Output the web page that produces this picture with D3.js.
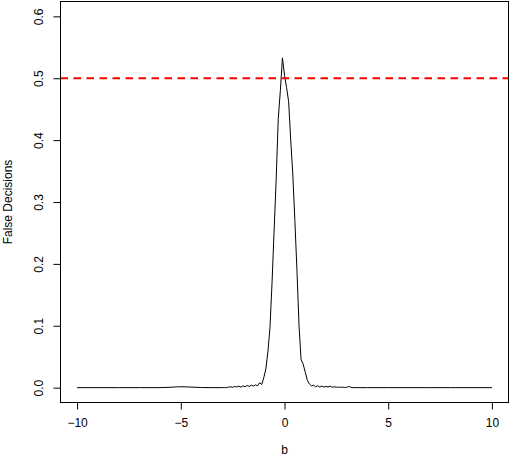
<!DOCTYPE html>
<html>
<head>
<meta charset="utf-8">
<script src="https://cdn.jsdelivr.net/npm/d3@7"></script>
<style>
  html, body { margin: 0; padding: 0; background: #fff; }
  svg { display: block; }
  text { font-family: "Liberation Sans", Arial, Helvetica, sans-serif; fill: #000; }
</style>
</head>
<body>
<script>
// ---- data ----
const bValues = [
  -10, -9, -8, -7, -6, -5.5, -5.2, -5.0, -4.8, -4.5, -4.0, -3.5,
  -3.0, -2.9, -2.8, -2.7, -2.6, -2.5, -2.4, -2.3, -2.2, -2.1,
  -2.0, -1.9, -1.8, -1.7, -1.6, -1.5, -1.4, -1.3, -1.2, -1.1,
  -1.0, -0.9, -0.8, -0.7, -0.6, -0.5, -0.4, -0.3, -0.2, -0.1,
  0.0, 0.1, 0.2, 0.3, 0.4, 0.5, 0.6, 0.7, 0.8, 0.9,
  1.0, 1.1, 1.2, 1.3, 1.4, 1.5, 1.6, 1.7, 1.8, 1.9,
  2.0, 2.1, 2.2, 2.3, 2.4, 2.5, 2.6, 2.7, 2.8, 2.9,
  3.0, 3.1, 3.2, 3.3, 3.4, 3.5,
  4, 5, 6, 7, 8, 9, 10
];
const falseDecisions = [
  0, 0, 0, 0, 0, 0.0006, 0.0012, 0.0015, 0.0013, 0.0009, 0.0002, 0,
  0, 0, 0, 0.0008, 0.0015, 0.0005, 0.002, 0.001, 0.0025, 0.0008,
  0.003, 0.0015, 0.0035, 0.002, 0.004, 0.0025, 0.0045, 0.003, 0.008, 0.005,
  0.016, 0.03, 0.058, 0.097, 0.17, 0.255, 0.338, 0.435, 0.48, 0.533,
  0.505, 0.485, 0.462, 0.40, 0.345, 0.27, 0.19, 0.10, 0.045, 0.038,
  0.025, 0.012, 0.006, 0.003, 0.004, 0.0015, 0.003, 0.001, 0.0025, 0.0008,
  0.002, 0.001, 0.0025, 0.0005, 0.0015, 0.0005, 0.001, 0.0005, 0.0008, 0.0003,
  0.0005, 0.002, 0.0005, 0, 0, 0,
  0, 0, 0, 0, 0, 0, 0
];
const xTicks = [-10, -5, 0, 5, 10];
const yTicks = [0.0, 0.1, 0.2, 0.3, 0.4, 0.5, 0.6];
const thresholdValue = 0.5;
const xLabel = "b";
const yLabel = "False Decisions";

// ---- layout ----
const W = 510, H = 463;
const pLeft = 60.5, pRight = 508.5, pTop = 1.5, pBottom = 402.5;

const svg = d3.select("body").append("svg").attr("width", W).attr("height", H);

const x = d3.scaleLinear().domain([-10.8, 10.8]).range([pLeft, pRight]);
const y = d3.scaleLinear().domain([-0.024, 0.624]).range([pBottom, pTop]);

// clip
svg.append("clipPath").attr("id", "clip")
  .append("rect").attr("x", pLeft).attr("y", pTop)
  .attr("width", pRight - pLeft).attr("height", pBottom - pTop);

// data line
const pts = bValues.map((b, i) => [b, falseDecisions[i]]);
svg.append("path")
  .datum(pts)
  .attr("clip-path", "url(#clip)")
  .attr("fill", "none")
  .attr("stroke", "#000")
  .attr("stroke-width", 1)
  .attr("stroke-linejoin", "round")
  .attr("d", d3.line().x(d => x(d[0])).y(d => y(d[1])));

// threshold line
svg.append("line")
  .attr("x1", pLeft).attr("x2", pRight)
  .attr("y1", y(thresholdValue)).attr("y2", y(thresholdValue))
  .attr("stroke", "#ff0000")
  .attr("stroke-width", 2)
  .attr("stroke-dasharray", "7.5,5.5");

// box
svg.append("rect")
  .attr("x", pLeft).attr("y", pTop)
  .attr("width", pRight - pLeft).attr("height", pBottom - pTop)
  .attr("fill", "none").attr("stroke", "#000").attr("stroke-width", 1);

// x axis
const xAxis = d3.axisBottom(x).tickValues(xTicks).tickSizeOuter(0).tickSizeInner(7).tickPadding(9)
  .tickFormat(d => d3.format("d")(d).replace("-", "\u2212"));
const gx = svg.append("g").attr("transform", `translate(0,${pBottom})`).call(xAxis);
gx.select(".domain").remove();
gx.selectAll("text").attr("font-size", 12).attr("font-family", '"Liberation Sans", Arial, sans-serif');

// y axis
const yAxis = d3.axisLeft(y).tickValues(yTicks).tickSizeOuter(0).tickSizeInner(7).tickPadding(0)
  .tickFormat(d3.format(".1f"));
const gy = svg.append("g").attr("transform", `translate(${pLeft},0)`).call(yAxis);
gy.select(".domain").remove();
gy.selectAll(".tick text")
  .attr("font-size", 12)
  .attr("font-family", '"Liberation Sans", Arial, sans-serif')
  .attr("text-anchor", "middle")
  .attr("x", null).attr("dy", null)
  .attr("transform", "translate(-22,0) rotate(-90)")
  .attr("dominant-baseline", "central");

// axis titles
svg.append("text")
  .attr("x", (x(-10.8) + x(10.8)) / 2)
  .attr("y", 454)
  .attr("text-anchor", "middle")
  .attr("font-size", 12)
  .text(xLabel);

svg.append("text")
  .attr("transform", `translate(12,${(pTop + pBottom) / 2}) rotate(-90)`)
  .attr("text-anchor", "middle")
  .attr("font-size", 12)
  .text(yLabel);
</script>
</body>
</html>
